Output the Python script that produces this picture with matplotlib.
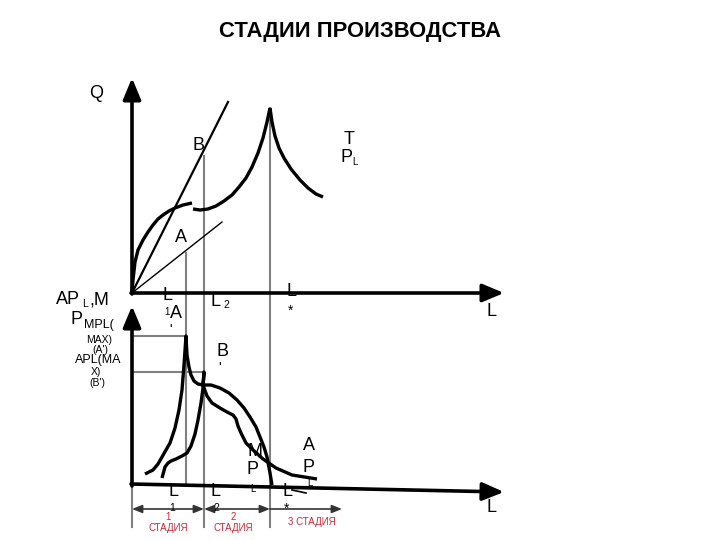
import matplotlib
matplotlib.use('Agg')
import matplotlib.pyplot as plt

plt.rcParams['font.family'] = ['Liberation Sans', 'DejaVu Sans']

# --- diagram data, in picture pixels (x right, y down) ---
# upper panel: total product TP_L
tp_left_x = [132, 133, 135, 138, 143, 148, 153, 158, 163, 169, 175, 183, 192]
tp_left_y = [292, 280, 262, 250, 240, 232, 225, 219, 215, 211, 208, 205, 203]
tp_mid_x = [193, 200, 208, 216, 224, 232, 239, 246, 252, 258, 263, 267, 270]
tp_mid_y = [209, 210, 209, 206, 201, 195, 187, 178, 167, 153, 138, 122, 108]
tp_right_x = [270, 272, 275, 279, 284, 291, 300, 308, 316, 323]
tp_right_y = [108, 122, 136, 148, 158, 169, 180, 188, 194, 197]
ray_b_x, ray_b_y = [132, 228], [293, 102]
ray_a_x, ray_a_y = [132, 222], [293, 222]

# lower panel: MP_L and AP_L
mp_x = [145, 153, 158, 162, 166, 170, 175, 179, 182, 184, 186, 187, 189, 191, 194, 198, 203,
        211, 220, 229, 237, 244, 250, 256, 260, 264, 267, 270, 272]
mp_y = [474, 470, 464, 457, 450, 443, 428, 410, 390, 365, 336, 355, 367, 375, 381, 384, 385,
        385, 388, 393, 400, 408, 417, 427, 437, 447, 457, 473, 485]
ap_x = [162, 165, 168, 171, 176, 182, 187, 191, 195, 198, 201, 203, 204, 203,
        207, 212, 220, 227, 233, 236, 238, 241, 246, 253, 263, 276, 292, 317]
ap_y = [478, 467, 463, 461, 459, 456, 453, 446, 434, 420, 403, 388, 372, 385,
        396, 403, 408, 412, 415, 419, 426, 433, 443, 450, 459, 468, 475, 479]
mp_neg_x, mp_neg_y = [292, 306], [490, 493]

# level lines and guide verticals
apmax_x, apmax_y = [132, 186], [336, 336]
mpmax_x, mpmax_y = [132, 204], [372, 372]
guide_l1_x, guide_l1_y = [186, 186], [253, 485]
guide_l2_x, guide_l2_y = [204, 204], [156, 527]
guide_ls_x, guide_ls_y = [270, 270], [108, 527]
guide_0_x, guide_0_y = [132, 132], [486, 527]

stage_edges = [132, 204, 270, 342]

fig = plt.figure(figsize=(7.2, 5.4), dpi=100)
ax = fig.add_axes([0, 0, 1, 1])
ax.set_xlim(0, 720)
ax.set_ylim(540, 0)
ax.axis('off')

gray = '#808080'
red = '#c8283a'

# guide lines
for gx, gy in [(guide_l1_x, guide_l1_y), (guide_l2_x, guide_l2_y),
               (guide_ls_x, guide_ls_y), (guide_0_x, guide_0_y),
               (apmax_x, apmax_y), (mpmax_x, mpmax_y)]:
    ax.plot(gx, gy, color=gray, lw=1.5)


# axes with arrows
def axis_arrow(x0, y0, x1, y1):
    ax.annotate('', xy=(x1, y1), xytext=(x0, y0),
                arrowprops=dict(arrowstyle='-|>,head_length=1.0,head_width=0.42',
                                lw=2.6, color='black', mutation_scale=13,
                                shrinkA=0, shrinkB=0))


axis_arrow(132, 294, 132, 78)
axis_arrow(131, 293, 504, 293)
axis_arrow(132, 486, 132, 306)
axis_arrow(131, 484, 504, 492)

# rays
ax.plot(ray_b_x, ray_b_y, color='black', lw=1.6)
ax.plot(ray_a_x, ray_a_y, color='black', lw=1.0)

# curves
for cx, cy in [(tp_left_x, tp_left_y), (tp_mid_x, tp_mid_y), (tp_right_x, tp_right_y),
               (mp_x, mp_y), (ap_x, ap_y)]:
    ax.plot(cx, cy, color='black', lw=2.4, solid_joinstyle='round', solid_capstyle='butt')
ax.plot(mp_neg_x, mp_neg_y, color='black', lw=1.2)

# stage arrows
for i in range(3):
    x0, x1 = stage_edges[i], stage_edges[i + 1]
    style = '<|-|>' if i < 2 else '-|>'
    ax.annotate('', xy=(x1, 509), xytext=(x0, 509),
                arrowprops=dict(arrowstyle=style + ',head_length=0.5,head_width=0.2',
                                lw=1.2, color='#333333', mutation_scale=12,
                                shrinkA=0, shrinkB=0))

# texts
ax.text(360, 32, 'СТАДИИ ПРОИЗВОДСТВА', ha='center', va='center',
        fontsize=15.8, fontweight='bold')
big = 13
ax.text(96, 93, 'Q', ha='center', va='center', fontsize=big)
ax.text(198, 145, 'B', ha='center', va='center', fontsize=big)
ax.text(181, 238, 'A', ha='center', va='center', fontsize=big)
ax.text(349, 140, 'T', ha='center', va='center', fontsize=big)
ax.text(346, 158, 'P', ha='center', va='center', fontsize=big)
ax.text(355, 162, 'L', ha='center', va='center', fontsize=7)
ax.text(168, 295, 'L', ha='center', va='center', fontsize=big, zorder=6)
ax.text(167, 312, '1', ha='center', va='center', fontsize=7)
ax.text(216, 302, 'L', ha='center', va='center', fontsize=big)
ax.text(226, 305, '2', ha='center', va='center', fontsize=7.5)
ax.text(291, 291, 'L', ha='center', va='center', fontsize=big, zorder=6)
ax.text(291, 311, '*', ha='center', va='center', fontsize=10)
ax.text(492, 312, 'L', ha='center', va='center', fontsize=big)

# lower panel labels
ax.text(56, 300, 'AP', ha='left', va='center', fontsize=big)
ax.text(82, 304, 'L', ha='left', va='center', fontsize=7.5)
ax.text(89, 300, ',M', ha='left', va='center', fontsize=big)
ax.text(71, 320, 'P', ha='left', va='center', fontsize=big)
ax.text(84, 325, 'MPL(', ha='left', va='center', fontsize=9)
ax.text(99, 340, 'MAX)', ha='center', va='center', fontsize=7.5)
ax.text(100, 350, '(A\')', ha='center', va='center', fontsize=7.5)
ax.text(75, 360, 'APL(MA', ha='left', va='center', fontsize=9)
ax.text(96, 372, 'X)', ha='center', va='center', fontsize=7.5)
ax.text(97, 383, '(B\')', ha='center', va='center', fontsize=7.5)
ax.text(176, 313, 'A', ha='center', va='center', fontsize=big)
ax.text(171, 330, "'", ha='center', va='center', fontsize=10)
ax.text(223, 352, 'B', ha='center', va='center', fontsize=big)
ax.text(220, 368, "'", ha='center', va='center', fontsize=10)
ax.text(255, 452, 'M', ha='center', va='center', fontsize=big)
ax.text(253, 470, 'P', ha='center', va='center', fontsize=big)
ax.text(253, 489, 'L', ha='center', va='center', fontsize=7)
ax.text(309, 446, 'A', ha='center', va='center', fontsize=big)
ax.text(308, 467, 'P', ha='center', va='center', fontsize=big)
ax.text(310, 483, 'L', ha='center', va='center', fontsize=7)
ax.text(173, 492, 'L', ha='center', va='center', fontsize=big, zorder=6)
ax.text(172, 508, '1', ha='center', va='center', fontsize=7.5)
ax.text(215, 492, 'L', ha='center', va='center', fontsize=big, zorder=6)
ax.text(216, 508, '2', ha='center', va='center', fontsize=7.5)
ax.text(287, 492, 'L', ha='center', va='center', fontsize=big, zorder=6)
ax.text(287, 509, '*', ha='center', va='center', fontsize=10)
ax.text(492, 507, 'L', ha='center', va='center', fontsize=big)

# stage names
ax.text(168, 517, '1', ha='center', va='center', fontsize=7, color=red)
ax.text(168, 528, 'СТАДИЯ', ha='center', va='center', fontsize=7, color=red)
ax.text(233, 517, '2', ha='center', va='center', fontsize=7, color=red)
ax.text(233, 528, 'СТАДИЯ', ha='center', va='center', fontsize=7, color=red)
ax.text(312, 522, '3 СТАДИЯ', ha='center', va='center', fontsize=7, color=red)

fig.savefig('out.png', dpi=100)
